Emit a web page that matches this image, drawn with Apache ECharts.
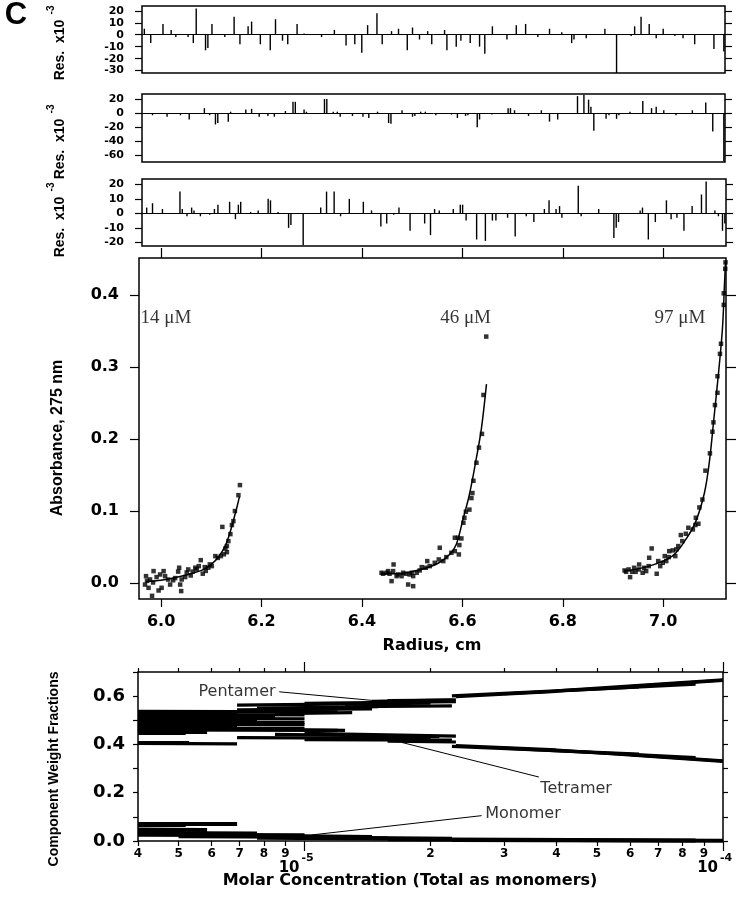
<!DOCTYPE html>
<html><head><meta charset="utf-8">
<script src="https://cdn.jsdelivr.net/npm/echarts@6/dist/echarts.min.js"></script>
<style>html,body{margin:0;padding:0;background:#fff}#c{width:741px;height:900px}</style>
</head><body><div id="c"></div>
<script>
// ---------- residual panels (position across panel 0..100, residual x10^-3) ----------
const res1Pos = [0.4,1.5,3.6,5.0,5.8,7.9,8.8,9.3,10.9,11.3,12.0,14.2,15.8,16.8,18.2,18.8,20.3,22.0,22.9,24.1,25.0,26.6,27.8,30.8,33.0,35.0,36.5,37.7,38.7,40.3,41.2,42.8,44.0,45.5,46.4,47.6,49.0,49.7,51.9,52.3,53.9,54.7,56.3,57.9,58.8,60.1,62.6,64.2,65.8,67.9,69.9,72.0,73.7,74.1,76.2,79.4,81.4,83.9,84.5,85.6,87.0,88.2,89.4,91.4,92.8,94.8,98.1,99.8];
const res1Val = [5,-7,9,4,-2,-2,-7,22,-13,-11,9,-2,15,-8,7,11,-8,-13,13,-5,-8,9,1,-2,4,-9,-8,-15,8,18,-8,3,5,-13,6,-4,3,-8,4,-13,-10,-5,-7,-10,-16,7,-4,8,9,-2,5,2,-7,-4,-3,5,-32,-1,7,15,9,-3,5,-1,-3,-8,-12,-14];
const res2Pos = [1.8,4.3,6.6,8.1,10.7,11.6,12.6,13.0,14.8,15.2,17.8,18.8,20.1,21.6,22.7,24.6,25.9,26.3,27.8,28.2,31.3,31.7,32.8,33.5,34.0,36.1,37.9,38.9,40.4,42.3,42.7,44.6,46.4,46.8,47.8,48.6,50.4,53.1,54.1,55.5,55.9,57.5,57.9,60.0,62.8,63.2,63.9,66.3,68.5,69.9,71.3,74.7,75.8,76.6,77.0,77.5,79.6,80.1,81.4,81.8,83.7,85.9,87.4,88.2,89.5,91.6,94.4,96.7,97.9,99.8];
const res2Val = [-3,-5,-3,-9,7,-3,-16,-14,-12,2,5,6,-5,-4,-5,3,16,16,5,2,20,20,2,2,-5,-4,-5,-7,2,-14,-15,4,-5,-4,2,2,-3,-2,-7,-4,-3,-20,-9,-2,7,7,4,-4,4,-12,-9,24,26,19,9,-25,-8,-3,-8,-3,2,17,7,9,4,-3,4,15,-26,-68];
const res3Pos = [0.8,1.8,3.5,6.5,6.9,7.7,8.5,8.9,10.0,11.6,12.4,13.0,15.0,16.0,16.5,16.9,18.6,19.9,21.6,22.0,23.3,25.1,25.5,27.6,30.6,31.6,32.9,34.0,35.5,37.9,39.3,40.9,41.9,43.1,44.0,45.9,48.4,49.4,50.1,50.9,53.3,54.5,54.9,55.5,57.3,58.8,60.0,60.6,62.6,63.9,65.8,67.1,68.9,69.7,70.9,71.5,71.9,74.7,75.2,78.2,80.8,81.2,81.6,85.3,85.7,86.7,87.9,89.8,90.6,91.6,92.8,94.2,95.8,96.6,98.1,98.7,99.4,99.8];
const res3Val = [4,7,3,15,3,-2,4,2,-2,-1,3,6,8,-4,6,8,1,2,10,9,1,-10,-8,-22,4,15,15,-2,10,8,2,-9,-7,-1,4,-12,-7,-15,3,2,3,6,6,-5,-18,-19,-5,-5,-3,-16,-2,-6,3,9,3,5,-3,19,-2,3,-17,-10,-6,2,4,-18,-6,9,-4,-3,-12,5,13,22,2,-2,-12,-7];

// ---------- sedimentation equilibrium scans (radius cm, absorbance 275 nm) ----------
const c14R = [5.968,5.970,5.972,5.975,5.978,5.982,5.984,5.985,5.991,5.995,5.998,6.001,6.005,6.008,6.014,6.018,6.024,6.028,6.034,6.036,6.038,6.040,6.041,6.048,6.051,6.054,6.059,6.063,6.068,6.071,6.075,6.079,6.083,6.087,6.089,6.094,6.097,6.101,6.108,6.113,6.119,6.122,6.125,6.128,6.131,6.131,6.134,6.138,6.141,6.144,6.147,6.154,6.157];
const c14A = [-0.002,0.0097,0.0032,-0.0065,0.0051,-0.0176,0.0009,0.0167,0.0084,-0.0102,0.012,-0.0065,0.0167,0.0097,0.005,-0.002,0.004,0.007,0.016,0.0214,-0.002,-0.011,0.0051,0.0084,0.0148,0.019,0.0106,0.016,0.0214,0.019,0.0236,0.0319,0.0131,0.0222,0.017,0.0214,0.026,0.0236,0.0375,0.035,0.0375,0.078,0.040,0.048,0.0514,0.043,0.0583,0.068,0.0806,0.086,0.100,0.122,0.136];
const fit14R = [5.970,6.000,6.030,6.060,6.085,6.100,6.115,6.128,6.138,6.146,6.152,6.156];
const fit14A = [0.002,0.004,0.008,0.013,0.019,0.026,0.037,0.052,0.072,0.092,0.108,0.120];

const c46R = [6.439,6.442,6.449,6.452,6.455,6.459,6.462,6.463,6.469,6.472,6.479,6.482,6.488,6.492,6.495,6.499,6.502,6.502,6.509,6.515,6.519,6.527,6.530,6.535,6.545,6.553,6.555,6.562,6.568,6.578,6.585,6.585,6.591,6.593,6.594,6.598,6.602,6.604,6.607,6.614,6.618,6.620,6.622,6.628,6.633,6.639,6.642,6.6475];
const c46A = [0.0144,0.0130,0.0144,0.0167,0.0130,0.0028,0.0167,0.0259,0.0097,0.0120,0.0097,0.0144,0.0130,-0.0019,0.0120,0.0144,0.0097,-0.0042,0.0144,0.0176,0.0222,0.0213,0.0306,0.0236,0.0282,0.0329,0.0491,0.0306,0.0361,0.0421,0.0444,0.0630,0.0630,0.0398,0.0528,0.0620,0.0838,0.0907,0.0991,0.102,0.118,0.125,0.142,0.167,0.188,0.207,0.261,0.342];
const fit46R = [6.439,6.470,6.500,6.528,6.555,6.575,6.588,6.601,6.614,6.628,6.638,6.648];
const fit46A = [0.013,0.013,0.016,0.021,0.029,0.040,0.054,0.088,0.123,0.174,0.215,0.276];

const c97R = [6.923,6.926,6.931,6.934,6.938,6.942,6.945,6.951,6.952,6.959,6.962,6.966,6.971,6.972,6.977,6.987,6.990,6.994,6.999,7.003,7.006,7.011,7.012,7.019,7.024,7.026,7.030,7.035,7.038,7.045,7.050,7.059,7.064,7.065,7.070,7.072,7.078,7.084,7.093,7.098,7.100,7.103,7.108,7.108,7.113,7.115,7.1205,7.1205,7.1235,7.124];
const c97A = [0.0176,0.0157,0.0190,0.0083,0.0157,0.0213,0.0157,0.0190,0.0259,0.0144,0.0213,0.0167,0.0236,0.0352,0.0481,0.0130,0.0306,0.0236,0.0282,0.0375,0.0306,0.0361,0.0444,0.0454,0.0375,0.0468,0.0514,0.0667,0.0583,0.0685,0.0768,0.0745,0.0806,0.0907,0.0824,0.105,0.116,0.156,0.180,0.210,0.223,0.247,0.264,0.287,0.318,0.332,0.386,0.402,0.436,0.445];
const fit97R = [6.923,6.972,7.018,7.045,7.065,7.082,7.092,7.101,7.111,7.118,7.122,7.124];
const fit97A = [0.0167,0.0236,0.0375,0.0606,0.086,0.125,0.169,0.229,0.298,0.354,0.415,0.445];

const scanLabels = ['14 μM','46 μM','97 μM'];
const scanLabelR = [5.958,6.658,7.085];
const scanLabelA = [0.368,0.368,0.368];

// ---------- component weight fractions: segments [c1, c2, f1, f2] ----------
const pentamerSeg = [
 [4.0e-6,1.2e-5,0.537,0.535],[4.0e-6,6.9e-6,0.531,0.530],[4.0e-6,1.0e-5,0.524,0.522],[4.0e-6,8.5e-6,0.516,0.515],
 [4.0e-6,1.0e-5,0.508,0.506],[4.0e-6,7.7e-6,0.500,0.499],[4.0e-6,1.0e-5,0.492,0.490],[6.9e-6,1.45e-5,0.543,0.547],
 [7.7e-6,1.5e-5,0.550,0.556],[6.9e-6,2.0e-5,0.563,0.571],[8.5e-6,1.3e-5,0.528,0.532],[1.0e-5,2.3e-5,0.570,0.577],
 [1.25e-5,2.25e-5,0.556,0.560],[1.45e-5,2.3e-5,0.578,0.585],[1.58e-5,2.25e-5,0.582,0.584],[2.3e-5,4.0e-5,0.598,0.620],
 [2.25e-5,6.3e-5,0.601,0.638],[3.0e-5,8.6e-5,0.610,0.650],[4.0e-5,1.0e-4,0.622,0.667],[6.0e-5,1.0e-4,0.640,0.665]];
const tetramerSeg = [
 [4.0e-6,1.0e-5,0.484,0.482],[4.0e-6,6.9e-6,0.476,0.476],[4.0e-6,1.0e-5,0.468,0.467],[4.0e-6,1.2e-5,0.460,0.458],
 [4.0e-6,5.85e-6,0.452,0.452],[4.0e-6,5.2e-6,0.445,0.445],[4.0e-6,6.9e-6,0.404,0.402],[4.0e-6,5.3e-6,0.409,0.409],
 [7.7e-6,1.25e-5,0.462,0.458],[8.5e-6,2.1e-5,0.442,0.432],[6.9e-6,2.0e-5,0.428,0.425],[1.0e-5,2.3e-5,0.446,0.434],
 [1.0e-5,2.25e-5,0.420,0.418],[1.58e-5,2.3e-5,0.414,0.410],[2.3e-5,4.0e-5,0.395,0.378],[2.25e-5,6.3e-5,0.392,0.360],
 [3.0e-5,8.6e-5,0.385,0.345],[4.0e-5,1.0e-4,0.377,0.330],[6.0e-5,1.0e-4,0.358,0.332]];
const monomerSeg = [
 [4.0e-6,6.9e-6,0.073,0.073],[4.0e-6,5.2e-6,0.066,0.066],[4.0e-6,5.85e-6,0.048,0.046],[4.0e-6,5.2e-6,0.040,0.040],
 [4.0e-6,7.7e-6,0.033,0.031],[4.0e-6,1.0e-5,0.026,0.024],[5.0e-6,1.0e-5,0.020,0.018],[7.7e-6,1.45e-5,0.022,0.017],
 [7.7e-6,1.58e-5,0.013,0.010],[1.0e-5,2.25e-5,0.014,0.009],[1.58e-5,8.6e-5,0.007,0.002],[2.25e-5,1.0e-4,0.004,0.001]];

// annotations
const annotNames = ['Pentamer','Tetramer','Monomer'];
const annotTextC = [8.6e-6,3.63e-5,2.68e-5];
const annotTextF = [0.618,0.214,0.113];
const annotSide  = ['left','right','right'];
const leaderFrom = [[8.7e-6,0.618],[3.63e-5,0.265],[2.65e-5,0.105]];
const leaderTo   = [[1.50e-5,0.580],[1.71e-5,0.408],[1.04e-5,0.025]];

// ---------- ticks ----------
const res1Ticks = [-30,-20,-10,0,10,20];
const res2Ticks = [-60,-40,-20,0,20];
const res3Ticks = [-20,-10,0,10,20];
const radiusTicks = [6.0,6.2,6.4,6.6,6.8,7.0];
const absTicks = [0,0.1,0.2,0.3,0.4];
const concMinor = [4e-6,5e-6,6e-6,7e-6,8e-6,9e-6,2e-5,3e-5,4e-5,5e-5,6e-5,7e-5,8e-5,9e-5];
const concMajor = [1e-5,1e-4];
const fracTicks = [0,0.1,0.2,0.3,0.4,0.5,0.6,0.7];
const fracLabels = [0,0.2,0.4,0.6];

// ---------- build ----------
const SANS = '"DejaVu Sans", sans-serif';
const NARROW = '"Liberation Sans", Arial, sans-serif';
const SERIF = '"Liberation Serif", "Times New Roman", serif';
const L = Math.log10;
const pairs = (a,b) => a.map((v,i)=>[v,b[i]]);
const black = {color:'#000', width:1.2};
const noLine = {show:false, onZero:false};

const grids = [
 {left:142, top:6, width:583, height:67},
 {left:142, top:94, width:583, height:68},
 {left:142, top:179, width:584, height:67},
 {left:139, top:258, width:587, height:341},
 {left:138, top:672, width:585, height:169}
].map(g => Object.assign({show:true, borderColor:'#000', borderWidth:1.5, backgroundColor:'transparent'}, g));

function resX(gi){ return {type:'value', gridIndex:gi, min:0, max:100, axisLabel:{show:false}, axisTick:{show:false}, splitLine:{show:false}, axisLine:{show:true, onZero:true, lineStyle:{color:'#000', width:1}}}; }
function resY(gi, min, max, ticks, left){
  return {type:'value', gridIndex:gi, min, max, position:left?'left':'right', splitLine:{show:false}, axisLine:noLine,
    axisTick:{show:true, length:7, customValues:ticks, lineStyle:black},
    axisLabel:{show:left, customValues:ticks, margin:18, fontFamily:SANS, fontWeight:'bold', fontSize:11, color:'#000'}};
}
const lcMin = L(4e-6), lcMax = -4;
const digit = v => { const e = Math.floor(v+1e-9); return String(Math.round(Math.pow(10, v-e))); };

const xAxes = [
 resX(0), resX(1), resX(2),
 {type:'value', gridIndex:3, min:5.956, max:7.125, position:'bottom', splitLine:{show:false}, axisLine:noLine,
  axisTick:{length:8, customValues:radiusTicks, lineStyle:black},
  axisLabel:{customValues:radiusTicks, margin:15, formatter:v=>v.toFixed(1), fontFamily:SANS, fontWeight:'bold', fontSize:16, color:'#000'}},
 {type:'value', gridIndex:3, min:5.956, max:7.125, position:'top', splitLine:{show:false}, axisLine:noLine,
  axisTick:{length:10, customValues:radiusTicks, lineStyle:black}, axisLabel:{show:false}},
 {type:'value', gridIndex:4, min:lcMin, max:lcMax, position:'bottom', splitLine:{show:false}, axisLine:noLine,
  axisTick:{length:5, customValues:concMinor.map(L), lineStyle:black},
  axisLabel:{customValues:concMinor.map(L), formatter:digit, margin:7, fontFamily:SANS, fontWeight:'bold', fontSize:12, color:'#000'}},
 {type:'value', gridIndex:4, min:lcMin, max:lcMax, position:'bottom', splitLine:{show:false}, axisLine:noLine,
  axisTick:{length:10, customValues:concMajor.map(L), lineStyle:black}, axisLabel:{show:false}},
 {type:'value', gridIndex:4, min:lcMin, max:lcMax, position:'top', splitLine:{show:false}, axisLine:noLine,
  axisTick:{length:4, customValues:concMinor.map(L), lineStyle:black}, axisLabel:{show:false}},
 {type:'value', gridIndex:4, min:lcMin, max:lcMax, position:'top', splitLine:{show:false}, axisLine:noLine,
  axisTick:{length:10, customValues:concMajor.map(L), lineStyle:black}, axisLabel:{show:false}}
];
const yAxes = [
 resY(0,-32,24,res1Ticks,true), resY(0,-32,24,res1Ticks,false),
 resY(1,-69,27,res2Ticks,true), resY(1,-69,27,res2Ticks,false),
 resY(2,-22.5,23.7,res3Ticks,true), resY(2,-22.5,23.7,res3Ticks,false),
 {type:'value', gridIndex:3, min:-0.022, max:0.451, position:'left', splitLine:{show:false}, axisLine:noLine,
  axisTick:{length:9, customValues:absTicks, lineStyle:black},
  axisLabel:{customValues:absTicks, margin:20, formatter:v=>v.toFixed(1), fontFamily:SANS, fontWeight:'bold', fontSize:16, color:'#000'}},
 {type:'value', gridIndex:3, min:-0.022, max:0.451, position:'right', splitLine:{show:false}, axisLine:noLine,
  axisTick:{length:10, customValues:absTicks, lineStyle:black}, axisLabel:{show:false}},
 {type:'value', gridIndex:4, min:0, max:0.7, position:'left', splitLine:{show:false}, axisLine:noLine,
  axisTick:{length:5, customValues:fracTicks, lineStyle:black},
  axisLabel:{customValues:fracLabels, margin:13, formatter:v=>v.toFixed(1), fontFamily:SANS, fontWeight:'bold', fontSize:18, color:'#000'}},
 {type:'value', gridIndex:4, min:0, max:0.7, position:'right', splitLine:{show:false}, axisLine:noLine,
  axisTick:{length:5, customValues:fracTicks, lineStyle:black}, axisLabel:{show:false}}
];

const series = [];
[[res1Pos,res1Val],[res2Pos,res2Val],[res3Pos,res3Val]].forEach((d,i)=>{
  series.push({type:'bar', xAxisIndex:i, yAxisIndex:i*2, data:pairs(d[0],d[1]), barWidth:1.4, itemStyle:{color:'#000'}, silent:true});
});
[[c14R,c14A],[c46R,c46A],[c97R,c97A]].forEach(d=>{
  series.push({type:'scatter', xAxisIndex:3, yAxisIndex:6, symbol:'rect', symbolSize:4.5, itemStyle:{color:'#000'}, data:pairs(d[0],d[1])});
});
[[fit14R,fit14A],[fit46R,fit46A],[fit97R,fit97A]].forEach(d=>{
  series.push({type:'line', xAxisIndex:3, yAxisIndex:6, smooth:0.35, showSymbol:false, symbol:'none', lineStyle:{color:'#000', width:1.5}, data:pairs(d[0],d[1])});
});
series.push({type:'scatter', xAxisIndex:3, yAxisIndex:6, symbolSize:1, itemStyle:{color:'rgba(0,0,0,0)'},
  data: scanLabels.map((t,i)=>({value:[scanLabelR[i], scanLabelA[i]],
    label:{show:true, formatter:t, position:i===0?'right':'left', distance:0, fontFamily:SERIF, fontSize:19, color:'#000'}}))});
[pentamerSeg, tetramerSeg, monomerSeg].forEach((segs,k)=>{
  series.push({type:'lines', coordinateSystem:'cartesian2d', xAxisIndex:5, yAxisIndex:8, polyline:false, silent:true,
    lineStyle:{color:'#000', width:k===2?4:3.2, opacity:1},
    data: segs.map(s=>({coords:[[L(s[0]),s[2]],[L(s[1]),s[3]]]}))});
});
series.push({type:'lines', coordinateSystem:'cartesian2d', xAxisIndex:5, yAxisIndex:8, polyline:false, silent:true,
  lineStyle:{color:'#000', width:1, opacity:1},
  data: leaderFrom.map((p,i)=>({coords:[[L(p[0]),p[1]],[L(leaderTo[i][0]),leaderTo[i][1]]]}))});
series.push({type:'scatter', xAxisIndex:5, yAxisIndex:8, symbolSize:1, itemStyle:{color:'rgba(0,0,0,0)'},
  data: annotNames.map((t,i)=>({value:[L(annotTextC[i]), annotTextF[i]],
    label:{show:true, formatter:t, position:annotSide[i], distance:1, fontFamily:SANS, fontSize:16, color:'#000'}}))});

const chart = echarts.init(document.getElementById('c'), null, {renderer:'canvas'});
chart.setOption({backgroundColor:'#fff', animation:false, grid:grids, xAxis:xAxes, yAxis:yAxes, series});

const px5 = chart.convertToPixel({xAxisIndex:6}, L(concMajor[0]));
const px4 = chart.convertToPixel({xAxisIndex:6}, L(concMajor[1]));
const T = (text,x,y,font,extra) => ({type:'text', x, y, silent:true, style:Object.assign({text, font, fill:'#000', align:'center', verticalAlign:'middle'}, extra||{})});
const R = (text,x,y,font) => ({type:'text', x, y, rotation:Math.PI/2, silent:true, style:{text, font, fill:'#000', align:'center', verticalAlign:'middle'}});
const resLabelY = [50,149,227];
const graphics = [
  T('C',16,15,'bold 31px '+NARROW),
  T('Radius, cm',432,646,'bold 16px '+SANS),
  R('Absorbance, 275 nm',58,438,'bold 16px '+NARROW),
  R('Component Weight Fractions',54,769,'bold 14px '+NARROW),
  T('Molar Concentration (Total as monomers)',410,881,'bold 16px '+SANS),
  T('10',px5-5,868,'bold 15px '+SANS,{align:'right'}),
  T('-5',px5-3,858,'bold 11px '+SANS,{align:'left'}),
  T('10',px4-5,868,'bold 15px '+SANS,{align:'right'}),
  T('-4',px4-3,858,'bold 11px '+SANS,{align:'left'})
];
resLabelY.forEach(y=>{
  graphics.push(R('Res.  x10',60,y,'bold 14px '+NARROW));
  graphics.push(R('-3',51,y-40,'bold 10px '+NARROW));
});
chart.setOption({graphic:graphics});
</script></body></html>
